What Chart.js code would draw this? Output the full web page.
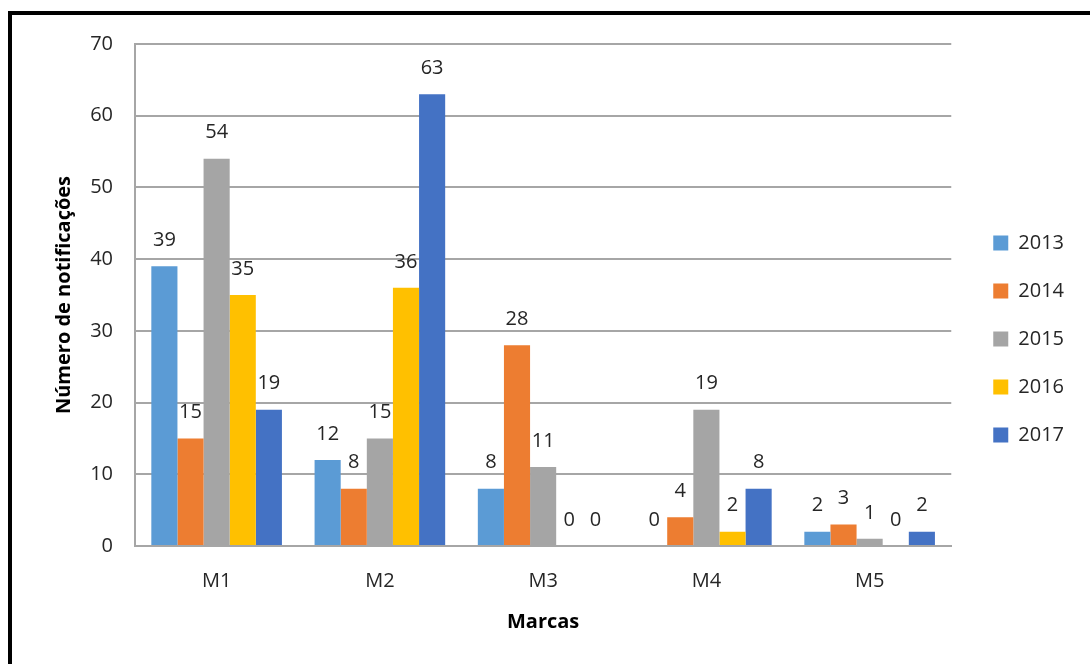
<!DOCTYPE html>
<html lang="pt">
<head>
    <meta charset="UTF-8">
    <title>Número de notificações por marca</title>
    <style>
        html, body {
            margin: 0;
            padding: 0;
            background: #fff;
            overflow: hidden;
        }
        #frame {
            position: absolute;
            left: 8px;
            top: 11px;
            width: 1200px;
            height: 800px;
            border: 4px solid #000;
        }
        #chart-container {
            position: absolute;
            left: 0;
            top: 0;
            width: 1090px;
            height: 664px;
        }
    </style>
</head>
<body>
    <div id="frame"></div>
    <div id="chart-container">
        <canvas id="myChart" width="1090" height="664"></canvas>
    </div>

    <script src="https://cdn.jsdelivr.net/npm/chart.js"></script>
    <script>
        // categories and series
        var marcas = ["M1", "M2", "M3", "M4", "M5"];
        var anos = ["2013", "2014", "2015", "2016", "2017"];
        var v2013 = [39, 12, 8, 0, 2];
        var v2014 = [15, 8, 28, 4, 3];
        var v2015 = [54, 15, 11, 19, 1];
        var v2016 = [35, 36, 0, 2, 0];
        var v2017 = [19, 63, 0, 8, 2];
        var cores = ["#5B9BD5", "#ED7D31", "#A5A5A5", "#FFC000", "#4472C4"];
        var yTicks = [0, 10, 20, 30, 40, 50, 60, 70];

        var FONT = "'Open Sans', sans-serif";
        var TXT = "#262626";
        var series = [v2013, v2014, v2015, v2016, v2017];

        // value labels above each bar
        var valueLabels = {
            id: 'valueLabels',
            afterDatasetsDraw: function(chart) {
                var ctx = chart.ctx;
                ctx.save();
                ctx.font = "20px " + FONT;
                ctx.fillStyle = TXT;
                ctx.textAlign = "center";
                ctx.textBaseline = "middle";
                chart.data.datasets.forEach(function(ds, i) {
                    var meta = chart.getDatasetMeta(i);
                    meta.data.forEach(function(bar, j) {
                        ctx.fillText(String(ds.data[j]), bar.x, bar.y - 26);
                    });
                });
                ctx.restore();
            }
        };

        var ctx = document.getElementById('myChart').getContext('2d');
        var myChart = new Chart(ctx, {
            type: 'bar',
            data: {
                labels: marcas,
                datasets: anos.map(function(a, i) {
                    return {
                        label: a,
                        data: series[i],
                        backgroundColor: cores[i],
                        categoryPercentage: 0.8,
                        barPercentage: 1.0
                    };
                })
            },
            plugins: [valueLabels],
            options: {
                responsive: false,
                animation: false,
                layout: {
                    padding: { left: 52, top: 44, right: 16, bottom: 30 }
                },
                scales: {
                    y: {
                        min: 0,
                        max: 70,
                        afterBuildTicks: function(scale) {
                            scale.ticks = yTicks.map(function(v) { return { value: v }; });
                        },
                        afterFit: function(scale) {
                            scale.width = 135 - 52;
                        },
                        grid: {
                            color: "#A6A6A6",
                            lineWidth: 2,
                            drawTicks: false
                        },
                        border: { display: true, color: "#A6A6A6", width: 2 },
                        ticks: {
                            padding: 22,
                            color: TXT,
                            font: { family: FONT, size: 20 }
                        },
                        title: {
                            display: true,
                            text: "Número de notificações",
                            color: "#000",
                            padding: 0,
                            font: { family: FONT, size: 20, weight: 'bold' }
                        }
                    },
                    // empty gap between plot and legend
                    gap: {
                        type: 'linear',
                        position: 'right',
                        afterFit: function(scale) {
                            scale.width = 14;
                        },
                        grid: { display: false, drawTicks: false },
                        border: { display: false },
                        ticks: { display: false }
                    },
                    x: {
                        afterFit: function(scale) {
                            scale.height = 634 - 546;
                        },
                        grid: { display: false, drawTicks: false },
                        border: { display: true, color: "#A6A6A6", width: 2 },
                        ticks: {
                            padding: 23,
                            color: TXT,
                            font: { family: FONT, size: 20 }
                        },
                        title: {
                            display: true,
                            text: "Marcas",
                            color: "#000",
                            padding: 0,
                            font: { family: FONT, size: 20, weight: 'bold' }
                        }
                    }
                },
                plugins: {
                    legend: {
                        position: 'right',
                        labels: {
                            boxWidth: 15,
                            boxHeight: 15,
                            padding: 28,
                            color: TXT,
                            font: { family: FONT, size: 20 }
                        }
                    },
                    tooltip: { enabled: false }
                }
            }
        });
    </script>
</body>
</html>
